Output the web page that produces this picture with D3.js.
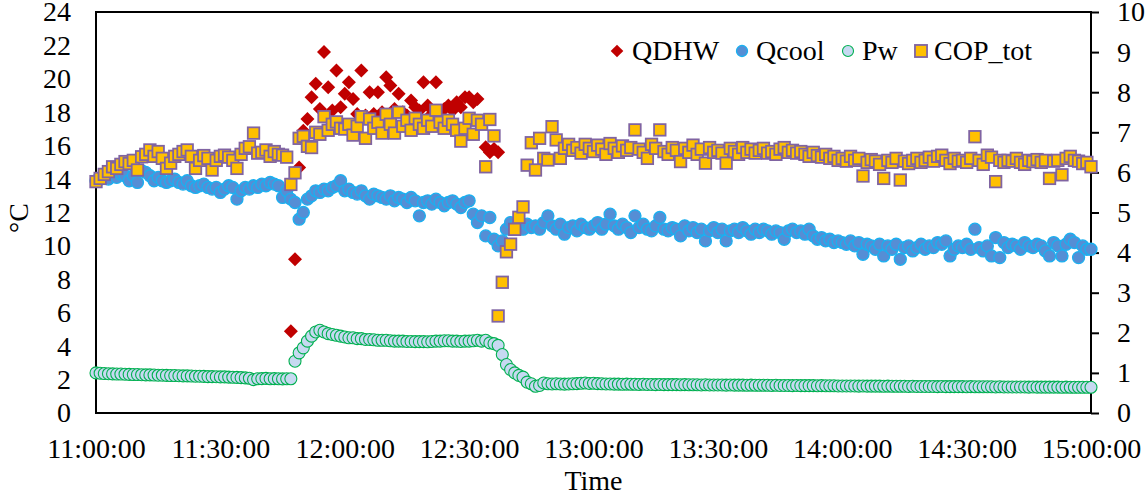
<!DOCTYPE html>
<html>
<head>
<meta charset="utf-8">
<script src="https://cdn.jsdelivr.net/npm/d3@7"></script>
<style>
  html, body { margin: 0; padding: 0; background: #ffffff; }
  svg { display: block; }
</style>
</head>
<body>
<svg id="chart" width="1146" height="496"></svg>
<script>
// ---- data: one reading per minute from 11:00 to 15:00 ----
const seriesNames = ["QDHW", "Qcool", "Pw", "COP_tot"];
const startTime = "11:00:00";
const endTime = "15:00:00";
const timeTickLabels = ["11:00:00", "11:30:00", "12:00:00", "12:30:00", "13:00:00",
                        "13:30:00", "14:00:00", "14:30:00", "15:00:00"];
const leftTicks = [0, 2, 4, 6, 8, 10, 12, 14, 16, 18, 20, 22, 24];
const rightTicks = [0, 1, 2, 3, 4, 5, 6, 7, 8, 9, 10];
const leftTitle = "°C";
const bottomTitle = "Time";

const qcool = [
  13.9,14.0,14.2,14.0,14.3,14.1,14.3,14.2,13.9,14.2,
  13.8,14.5,14.4,14.2,13.9,14.1,13.9,13.8,13.9,14.0,
  13.8,13.7,13.9,13.6,13.5,13.6,13.7,13.5,13.4,13.5,
  13.2,13.4,13.6,13.5,12.8,13.3,13.5,13.4,13.6,13.5,
  13.7,13.6,13.8,13.7,13.6,12.9,13.3,12.8,12.6,11.6,
  12.0,12.8,13.0,13.3,13.2,13.4,13.3,13.5,13.6,13.9,
  13.3,13.4,13.2,13.1,13.3,13.0,12.8,13.1,13.0,12.9,
  12.8,13.0,12.7,12.9,12.8,12.6,12.9,12.7,11.8,12.6,
  12.7,12.5,12.8,12.6,12.4,12.6,12.7,12.5,12.3,12.6,
  12.7,11.9,11.4,11.8,10.6,11.7,10.4,10.0,10.3,11.0,
  11.4,11.2,11.5,11.0,11.3,11.1,11.2,11.0,11.4,11.8,
  11.2,11.0,11.3,10.7,11.1,11.2,10.9,11.3,11.1,11.0,
  11.2,11.4,11.0,11.3,11.9,11.2,11.0,11.3,11.1,10.8,
  11.8,11.1,11.3,11.0,10.9,11.2,11.7,11.0,10.9,11.1,
  11.0,10.6,11.2,10.9,11.1,10.8,11.0,10.3,10.9,11.1,
  10.8,11.0,10.3,10.9,11.0,10.8,11.1,10.9,10.7,11.0,
  10.8,11.0,10.9,10.7,10.9,10.8,10.4,10.9,11.0,10.8,
  10.9,10.7,11.0,10.6,10.4,10.5,10.3,10.4,10.2,10.3,
  10.2,10.1,10.3,10.0,10.2,9.5,10.1,10.0,9.8,10.1,
  9.4,10.0,9.8,10.1,9.2,9.9,10.0,9.7,9.9,10.1,
  9.8,10.0,9.9,10.2,10.1,10.3,9.4,9.8,10.0,9.9,
  10.1,9.8,11.0,9.9,9.7,10.0,9.4,10.5,9.3,10.2,
  9.9,10.1,10.0,9.8,10.2,10.0,9.9,10.1,10.0,9.7,
  9.4,10.2,10.0,9.4,10.1,10.4,10.2,9.3,10.0,9.8,
  9.8
];

const pw = [
  2.40,2.38,2.36,2.35,2.34,2.33,2.33,2.32,2.31,2.30,
  2.30,2.29,2.28,2.28,2.27,2.26,2.26,2.25,2.24,2.24,
  2.23,2.22,2.22,2.21,2.20,2.20,2.19,2.18,2.18,2.17,
  2.16,2.16,2.15,2.14,2.13,2.12,2.10,2.08,2.00,2.05,
  2.06,2.07,2.05,2.06,2.05,2.04,2.05,2.05,3.10,3.60,
  3.90,4.30,4.60,4.85,4.95,4.85,4.75,4.70,4.65,4.60,
  4.55,4.50,4.50,4.45,4.45,4.40,4.40,4.38,4.35,4.35,
  4.35,4.32,4.30,4.30,4.30,4.28,4.28,4.27,4.27,4.27,
  4.26,4.28,4.30,4.30,4.32,4.32,4.30,4.30,4.28,4.30,
  4.30,4.32,4.35,4.30,4.35,4.20,4.15,4.05,3.50,2.90,
  2.60,2.40,2.25,2.15,1.85,1.75,1.60,1.65,1.80,1.75,
  1.74,1.75,1.74,1.73,1.74,1.75,1.76,1.78,1.80,1.77,
  1.78,1.76,1.75,1.74,1.74,1.73,1.73,1.72,1.73,1.72,
  1.72,1.71,1.72,1.71,1.71,1.70,1.71,1.70,1.70,1.70,
  1.70,1.69,1.70,1.69,1.69,1.69,1.68,1.69,1.68,1.68,
  1.68,1.68,1.67,1.68,1.67,1.67,1.67,1.66,1.67,1.66,
  1.66,1.66,1.66,1.65,1.66,1.65,1.65,1.65,1.64,1.65,
  1.64,1.64,1.64,1.64,1.63,1.64,1.63,1.63,1.63,1.62,
  1.62,1.62,1.62,1.62,1.61,1.62,1.61,1.61,1.61,1.61,
  1.60,1.61,1.60,1.60,1.60,1.60,1.59,1.60,1.59,1.59,
  1.59,1.59,1.59,1.58,1.59,1.58,1.58,1.58,1.58,1.58,
  1.57,1.58,1.57,1.57,1.57,1.57,1.57,1.56,1.57,1.56,
  1.56,1.56,1.56,1.56,1.56,1.55,1.56,1.55,1.55,1.55,
  1.55,1.55,1.55,1.54,1.55,1.54,1.54,1.54,1.54,1.54,
  1.54
];

const copTot = [
  5.77,5.85,5.95,6.02,6.14,6.10,6.20,6.27,6.22,6.30,
  6.06,6.39,6.45,6.56,6.40,6.52,6.35,6.10,6.23,6.40,
  6.45,6.52,6.56,6.40,6.10,6.30,6.42,6.35,6.06,6.30,
  6.40,6.43,6.38,6.30,6.10,6.45,6.60,6.64,6.98,6.48,
  6.50,6.56,6.40,6.52,6.45,6.43,6.38,5.70,5.99,6.85,
  6.90,6.65,6.62,7.00,6.95,7.39,7.05,7.20,7.26,7.10,
  7.08,7.20,6.93,7.15,7.39,6.85,7.33,7.10,7.25,6.98,
  7.45,7.20,6.98,7.50,7.15,7.30,7.05,7.35,7.20,7.10,
  7.30,7.15,7.55,7.25,7.10,7.30,7.20,7.05,6.78,7.10,
  7.35,6.95,7.30,7.20,6.14,7.32,6.91,2.42,3.26,4.02,
  4.21,4.58,4.88,5.14,6.18,6.74,6.06,6.85,6.35,6.31,
  7.14,6.81,6.35,6.60,6.70,6.55,6.62,6.48,6.70,6.60,
  6.52,6.68,6.58,6.45,6.72,6.60,6.50,6.66,6.55,6.62,
  7.06,6.58,6.50,6.35,6.70,6.60,7.06,6.52,6.45,6.62,
  6.55,6.27,6.60,6.50,6.68,6.45,6.58,6.23,6.62,6.50,
  6.55,6.48,6.23,6.60,6.52,6.45,6.62,6.50,6.58,6.48,
  6.55,6.60,6.48,6.52,6.45,6.58,6.62,6.50,6.55,6.48,
  6.52,6.45,6.40,6.50,6.42,6.38,6.45,6.35,6.40,6.30,
  6.35,6.28,6.40,6.30,6.35,5.91,6.25,6.32,6.28,6.20,
  5.85,6.30,6.25,6.35,5.81,6.28,6.22,6.30,6.35,6.25,
  6.30,6.38,6.28,6.40,6.43,6.30,6.22,6.35,6.28,6.30,
  6.25,6.35,6.89,6.30,6.20,6.43,6.38,5.77,6.30,6.25,
  6.30,6.28,6.35,6.25,6.20,6.30,6.27,6.32,6.25,6.30,
  5.85,6.28,6.30,5.94,6.35,6.40,6.30,6.28,6.22,6.25,
  6.14
];

// QDHW is only logged while hot water is being produced (11:47 - 12:37)
const qdhwStart = "11:47:00";
const qdhw = [
  4.9, 9.2, 14.7, 16.9, 17.6, 18.9, 19.7, 18.2, 21.6, 19.5,
  18.1, 20.5, 18.3, 19.1, 19.8, 18.8, 17.9, 20.5, 17.8, 19.2,
  17.9, 19.2, 18.0, 20.1, 19.6, 18.2, 19.1, 18.0, 17.8, 18.7,
  18.3, 18.1, 19.8, 18.4, 17.9, 19.8, 18.0, 18.2, 18.4, 18.1,
  18.6, 18.3, 18.9, 18.9, 18.6, 18.8, 17.4, 15.9, 15.6, 15.8,
  15.6
];

// ---- layout ----
const width = 1146, height = 496;
const plot = { left: 96, right: 1091, top: 12, bottom: 413 };
const fontSize = "28px";
const fontFamily = "'Liberation Serif'";

const parseTime = d3.timeParse("%H:%M:%S");
const fmtTime = d3.timeFormat("%H:%M:%S");
const t0 = parseTime(startTime);
const minuteAt = (base, i) => d3.timeMinute.offset(base, i);

const x = d3.scaleTime()
  .domain([parseTime(startTime), parseTime(endTime)])
  .range([plot.left, plot.right]);
const yLeft = d3.scaleLinear().domain([0, 24]).range([plot.bottom, plot.top]);
const yRight = d3.scaleLinear().domain([0, 10]).range([plot.bottom, plot.top]);

const svg = d3.select("#chart");

// all chart text uses the same serif face
function styleText(sel) {
  return sel.style("font-family", fontFamily).style("font-size", fontSize).attr("fill", "#000");
}

// plot frame
svg.append("rect")
  .attr("x", plot.left).attr("y", plot.top)
  .attr("width", plot.right - plot.left).attr("height", plot.bottom - plot.top)
  .attr("fill", "none").attr("stroke", "#000").attr("stroke-width", 2);

// axes
const gLeft = svg.append("g").attr("transform", `translate(${plot.left},0)`)
  .call(d3.axisLeft(yLeft).tickValues(leftTicks).tickSize(0).tickPadding(25));
const gRight = svg.append("g").attr("transform", `translate(${plot.right},0)`)
  .call(d3.axisRight(yRight).tickValues(rightTicks).tickSize(8).tickPadding(18));
const gBottom = svg.append("g").attr("transform", `translate(0,${plot.bottom})`)
  .call(d3.axisBottom(x).tickValues(timeTickLabels.map(parseTime))
        .tickFormat(fmtTime).tickSize(0).tickPadding(25));

[gLeft, gRight, gBottom].forEach(g => {
  g.attr("font-family", null).attr("font-size", null);
  g.select(".domain").remove();
  styleText(g.selectAll("text"));
  g.selectAll(".tick line").attr("stroke", "#000").attr("stroke-width", 2);
});

// axis titles
styleText(svg.append("text")
  .attr("transform", "translate(18,218) rotate(-90)")
  .attr("text-anchor", "middle").attr("dominant-baseline", "central")
  .text(leftTitle));
styleText(svg.append("text")
  .attr("x", (plot.left + plot.right) / 2).attr("y", 490)
  .attr("text-anchor", "middle")
  .text(bottomTitle));

// marker styles
const styles = {
  QDHW:    { shape: "diamond", size: 14, fill: "#C00000", stroke: "none", sw: 0 },
  Qcool:   { shape: "circle",  r: 6,     fill: "#558ED5", stroke: "#1AB0F0", sw: 1.3 },
  Pw:      { shape: "circle",  r: 6,     fill: "#C6D9F1", stroke: "#00B050", sw: 1.1 },
  COP_tot: { shape: "square",  size: 11.5, fill: "#FFC000", stroke: "#8064A2", sw: 1.8 }
};

function drawMarker(g, st, cx, cy, scale = 1) {
  if (st.shape === "circle") {
    g.append("circle").attr("cx", cx).attr("cy", cy).attr("r", st.r * scale)
      .attr("fill", st.fill).attr("stroke", st.stroke).attr("stroke-width", st.sw);
  } else if (st.shape === "square") {
    const s = st.size * scale;
    g.append("rect").attr("x", cx - s / 2).attr("y", cy - s / 2)
      .attr("width", s).attr("height", s)
      .attr("fill", st.fill).attr("stroke", st.stroke).attr("stroke-width", st.sw);
  } else {
    const h = st.size * scale / 2;
    g.append("path")
      .attr("d", `M${cx},${cy - h}L${cx + h},${cy}L${cx},${cy + h}L${cx - h},${cy}Z`)
      .attr("fill", st.fill);
  }
}

// series, drawn back to front
const qdhwT0 = parseTime(qdhwStart);
const layers = [
  { name: "QDHW",    values: qdhw,   base: qdhwT0, y: yLeft },
  { name: "Qcool",   values: qcool,  base: t0,     y: yLeft },
  { name: "Pw",      values: pw,     base: t0,     y: yLeft },
  { name: "COP_tot", values: copTot, base: t0,     y: yRight }
];

layers.forEach(layer => {
  const g = svg.append("g").attr("class", "series-" + layer.name);
  const st = styles[layer.name];
  layer.values.forEach((v, i) => {
    if (v == null) return;
    drawMarker(g, st, x(minuteAt(layer.base, i)), layer.y(v));
  });
});

// legend
const legendItems = [
  { name: "QDHW",    mx: 617, tx: 632 },
  { name: "Qcool",   mx: 742, tx: 756 },
  { name: "Pw",      mx: 848, tx: 862 },
  { name: "COP_tot", mx: 921, tx: 934 }
];
const legend = svg.append("g").attr("class", "legend");
legendItems.forEach(it => {
  const st = styles[it.name];
  const scale = st.shape === "circle" ? 0.92 : (st.shape === "diamond" ? 0.9 : 1.05);
  drawMarker(legend, st, it.mx, 51, scale);
  styleText(legend.append("text").attr("x", it.tx).attr("y", 60).text(it.name));
});
</script>
</body>
</html>
